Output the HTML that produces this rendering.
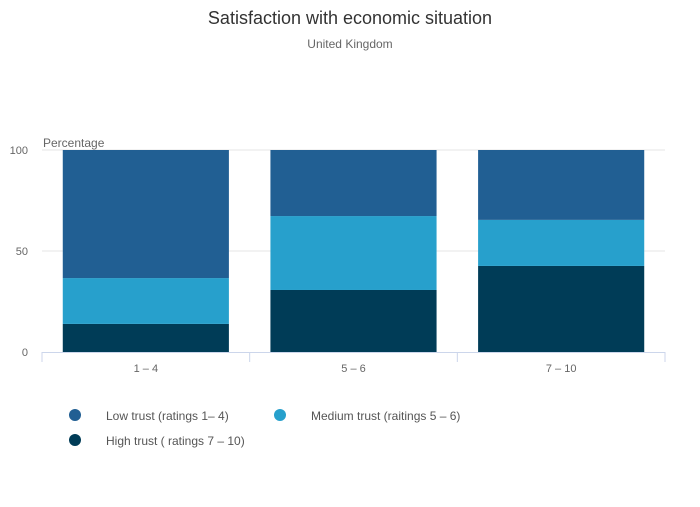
<!DOCTYPE html>
<html><head><meta charset="utf-8"><style>
body{margin:0;background:#fff;font-family:"Liberation Sans",sans-serif;}
svg text{font-family:"Liberation Sans",sans-serif;}
</style></head><body>
<svg width="700" height="502">
<text x="350" y="24" text-anchor="middle" font-size="18" fill="#333">Satisfaction with economic situation</text>
<text x="350" y="48" text-anchor="middle" font-size="12" fill="#666">United Kingdom</text>
<text x="43" y="147" font-size="12" fill="#666">Percentage</text>
<g id="grid"></g><g id="bars"></g><g id="axes"></g>
<g>
<g><circle cx="75" cy="415" r="6" fill="#215f93"/><text x="106" y="420" font-size="12" fill="#555">Low trust (ratings 1– 4)</text></g>
<g><circle cx="280" cy="415" r="6" fill="#27a0cc"/><text x="311" y="420" font-size="12" fill="#555">Medium trust (raitings 5 – 6)</text></g>
<g><circle cx="75" cy="440" r="6" fill="#003c57"/><text x="106" y="445" font-size="12" fill="#555">High trust ( ratings 7 – 10)</text></g>
</g>
</svg>
<script>
const categories=["1 – 4","5 – 6","7 – 10"];
const highTrust=[13.9,30.7,42.6];
const mediumTrust=[22.7,36.6,22.8];
const lowTrust=[63.4,32.7,34.6];
const yTicks=[0,50,100];
const NS="http://www.w3.org/2000/svg";
const x0=42,x1=665,yTop=150,yBot=352;
const y=v=>yBot-(v/100)*(yBot-yTop);
const bandW=(x1-x0)/categories.length;
function mk(t,a,p){const e=document.createElementNS(NS,t);for(const k in a)e.setAttribute(k,a[k]);p.appendChild(e);return e;}
const grid=document.getElementById('grid'),bars=document.getElementById('bars'),axes=document.getElementById('axes');
yTicks.forEach(t=>{
 if(t>0){const l=mk('line',{x1:x0,x2:x1,y1:y(t),y2:y(t),stroke:'#e6e6e6'},grid);
 
 }
 const tx=mk('text',{x:28,y:y(t)+4,'text-anchor':'end','font-size':11,fill:'#666'},axes);tx.textContent=t;
 
 
});
const series=[[highTrust,'#003c57','high'],[mediumTrust,'#27a0cc','medium'],[lowTrust,'#215f93','low']];
categories.forEach((c,i)=>{
 const bx=x0+i*bandW+bandW*0.1,bw=bandW*0.8;let acc=0;
 series.forEach(([arr,col,nm])=>{
  const r=mk('rect',{x:bx,y:y(acc+arr[i]),width:bw,height:y(acc)-y(acc+arr[i]),fill:col},bars);
  
  
  acc+=arr[i];
 });
 const tx=mk('text',{x:x0+i*bandW+bandW/2,y:372,'text-anchor':'middle','font-size':11,fill:'#666'},axes);tx.textContent=c;
 
 
});
const ax=mk('line',{x1:x0,x2:x1,y1:yBot+0.5,y2:yBot+0.5,stroke:'#ccd6eb'},axes);


for(let i=0;i<=categories.length;i++){const t=mk('line',{x1:x0+i*bandW,x2:x0+i*bandW,y1:yBot,y2:yBot+10,stroke:'#ccd6eb'},axes);
 
 }
</script>
</body></html>
